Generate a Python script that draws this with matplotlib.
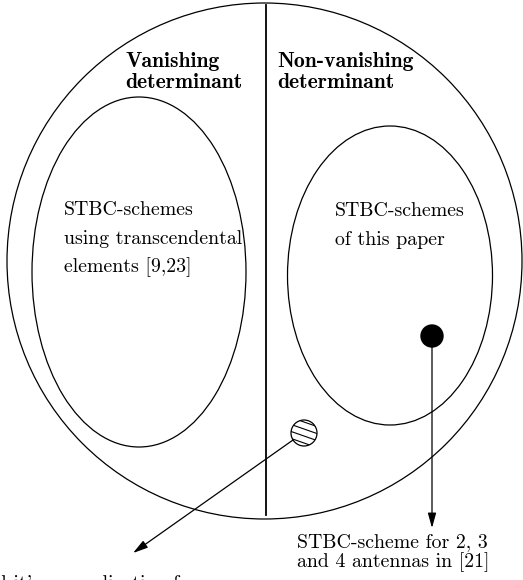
import numpy as np
import matplotlib.pyplot as plt
from matplotlib.patches import Ellipse, Circle, FancyArrowPatch

# labels
header_left = ["Vanishing", "determinant"]
header_right = ["Non-vanishing", "determinant"]
left_set = ["STBC-schemes", "using transcendental", "elements [9,23]"]
right_set = ["STBC-schemes", "of this paper"]
dot_label = ["STBC-scheme for 2, 3", "and 4 antennas in [21]"]
hatch_label = ["and it's generalization for"]

W, H = 523, 580
fig = plt.figure(figsize=(W / 100, H / 100), dpi=100)
ax = fig.add_axes([0, 0, 1, 1])
ax.set_xlim(0, W)
ax.set_ylim(H, 0)
ax.axis('off')

lw = 0.9
# outer circle, split line, inner sets
ax.add_patch(Ellipse((264.5, 261), 515, 516, fill=False, lw=lw, color='black'))
ax.plot([266, 266], [5, 515], color='black', lw=1.3)
ax.add_patch(Ellipse((139, 272), 214, 350, fill=False, lw=lw, color='black'))
ax.add_patch(Ellipse((390, 275.5), 205, 299, fill=False, lw=lw, color='black'))

# filled dot
ax.add_patch(Circle((432, 336), 11, color='black'))

# hatched small circle
hc = Circle((304, 433), 13, fill=False, lw=lw, color='black')
ax.add_patch(hc)
clip = Circle((304, 433), 13, transform=ax.transData, visible=False)
ax.add_patch(clip)
for off in [-11, -4, 3, 10]:
    xs = np.array([304 - 15, 304 + 15])
    ys = 433 + off + 0.35 * (xs - 304)
    ln, = ax.plot(xs, ys, color='black', lw=0.8)
    ln.set_clip_path(clip)

style = '-|>,head_length=0.9,head_width=0.25'
ax.add_patch(FancyArrowPatch((432, 347), (432, 528), arrowstyle=style,
                             mutation_scale=10, color='black', lw=lw,
                             shrinkA=0, shrinkB=0))
ax.add_patch(FancyArrowPatch((293, 440), (133, 553), arrowstyle=style,
                             mutation_scale=10, color='black', lw=lw,
                             shrinkA=0, shrinkB=0))

rm = dict(family='cmr10', fontsize=14.3, va='baseline', ha='left', color='black')
bf = dict(family='cmb10', fontsize=15.6, va='baseline', ha='left', color='black')

for i, s in enumerate(header_left):
    ax.text(125, 67 + 21 * i, s, **bf)
for i, s in enumerate(header_right):
    ax.text(277, 67 + 21 * i, s, **bf)
for i, s in enumerate(left_set):
    ax.text(64, 215 + 28.5 * i, s, **rm)
for i, s in enumerate(right_set):
    ax.text(335, 216 + 29 * i, s, **rm)
for i, s in enumerate(dot_label):
    ax.text(297, 547 + 20.5 * i, s, **rm)
ax.text(197, 589, hatch_label[0], **dict(rm, ha='right'))

fig.savefig('out.png', dpi=100)
